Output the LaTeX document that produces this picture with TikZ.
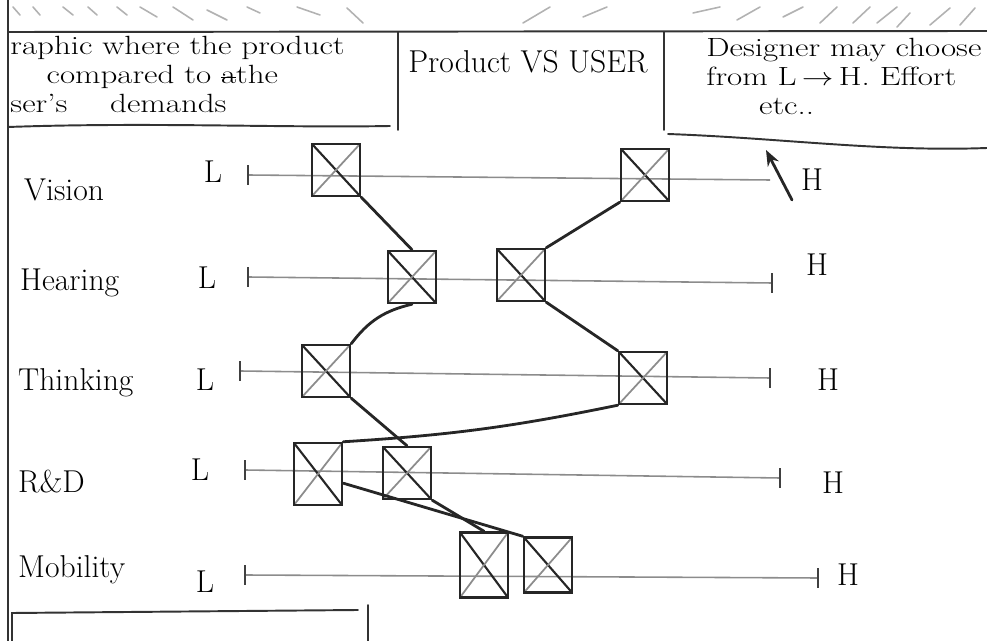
\documentclass[tikz,border=0pt]{standalone}
\usetikzlibrary{arrows.meta}
\newcommand{\struck}[1]{\setbox0\hbox{#1}\rlap{\rule[0.5ex]{\wd0}{0.6pt}}\box0}
\begin{document}
\begin{tikzpicture}[x=0.02cm,y=-0.02cm,
  ink/.style={line width=1.6pt,black!85,line cap=round},
  frame/.style={line width=1.1pt,black!80,line cap=round},
  scale line/.style={line width=0.9pt,black!45},
  tick/.style={line width=1pt,black!75},
  hatch/.style={line width=0.9pt,black!30,line cap=round},
  xbox/.style={draw=black!85,line width=1.4pt,minimum width=0.96cm,minimum height=1.04cm,inner sep=0pt,
    path picture={
      \draw[black!85,line width=1.2pt] (path picture bounding box.north west) -- (path picture bounding box.south east);
      \draw[black!45,line width=1pt] (path picture bounding box.north east) -- (path picture bounding box.south west);}},
  rowlabel/.style={anchor=west,font=\fontsize{18}{20}\selectfont},
  endlabel/.style={font=\fontsize{18}{20}\selectfont},
  note/.style={anchor=north west,align=left,inner sep=0pt,xscale=1.25,transform shape,
    font=\fontsize{15}{16.5}\selectfont}]
\useasboundingbox (0,0) rectangle (987,641);

% hatching above the header strip
\foreach \a/\b/\c/\d in {13/7/20/15,33/7/40/15,63/7/73/15,88/7/97/15,117/7/127/15,140/7/157/17,
  173/7/193/20,207/10/227/20,247/7/260/13,297/7/320/15,347/8/363/23}
  \draw[hatch] (\a,\b) -- (\c,\d);
\foreach \a/\b/\c/\d in {523/23/550/7,583/17/607/7,693/13/720/7,737/20/760/7,783/17/803/7,
  820/23/837/7,853/23/870/7,877/23/897/7,897/27/910/13,930/25/950/8,960/25/975/8}
  \draw[hatch] (\a,\b) -- (\c,\d);

% page frame and header boxes
\draw[frame,line width=1.6pt] (8,0) -- (8,641);
\draw[frame] (8,32) -- (987,31);
\draw[frame] (8,127) .. controls (150,122) and (280,128) .. (390,126);
\draw[frame] (398,32) -- (398,130);
\draw[frame] (664,32) -- (664,130);
\draw[frame] (668,134) .. controls (780,138) and (880,152) .. (987,148);
\draw[frame] (12,641) -- (12,613) -- (358,610);
\draw[frame] (368,605) -- (368,641);

% header texts
\node[note] (intro) at (10,36) {raphic where the product\\
  \hspace*{1.1em}compared to \struck{a}the\\
  ser's \hspace{1em}demands};
\node[note,xscale=0.8,font=\fontsize{18}{20}\selectfont] (title) at (408,50) {Product VS USER};
\node[note] (hint) at (706,38) {Designer may choose\\
  from L$\,\rightarrow\,$H. Effort\\
  \hspace*{1.6em}etc..};

% row names
\node[rowlabel] (rv) at (18,190) {Vision};
\node[rowlabel] (rh) at (14,283) {Hearing};
\node[rowlabel] (rt) at (12,383) {Thinking};
\node[rowlabel] (rr) at (12,482) {R\&D};
\node[rowlabel] (rm) at (12,570) {Mobility};

% low and high ends
\node[endlabel] (lv) at (213,172) {L};
\node[endlabel] (lh) at (207,278) {L};
\node[endlabel] (lt) at (205,380) {L};
\node[endlabel] (lr) at (200,470) {L};
\node[endlabel] (lm) at (205,582) {L};
\node[endlabel] (hv) at (812,180) {H};
\node[endlabel] (hh) at (817,265) {H};
\node[endlabel] (ht) at (828,380) {H};
\node[endlabel] (hr) at (833,483) {H};
\node[endlabel] (hm) at (848,575) {H};

% scales
\coordinate (v0) at (248,175); \coordinate (v1) at (770,180);
\coordinate (h0) at (248,277); \coordinate (h1) at (772,283);
\coordinate (t0) at (240,371); \coordinate (t1) at (770,378);
\coordinate (d0) at (245,470); \coordinate (d1) at (780,478);
\coordinate (m0) at (245,575); \coordinate (m1) at (818,578);
\foreach \s/\e in {v0/v1,h0/h1,t0/t1,d0/d1,m0/m1}
  \draw[scale line] (\s) -- (\e);
\foreach \p in {v0,h0,t0,d0,m0,h1,t1,d1,m1}
  \draw[tick] ([yshift=-0.2cm]\p) -- ([yshift=0.2cm]\p);

% level markers
\node[xbox] (V1) at (336,170) {};
\node[xbox] (V2) at (645,175) {};
\node[xbox] (H1) at (412,277) {};
\node[xbox] (H2) at (521,275) {};
\node[xbox] (T1) at (326,371) {};
\node[xbox] (T2) at (643,378) {};
\node[xbox,minimum height=1.24cm] (R1) at (318,474) {};
\node[xbox] (R2) at (407,473) {};
\node[xbox,minimum height=1.3cm] (M1) at (484,565) {};
\node[xbox,minimum height=1.1cm] (M2) at (548,565) {};

% first profile
\draw[ink] (V1.south east) -- (H1.north);
\draw[ink] (H1.south) to[bend right=20] (T1.north east);
\draw[ink] (T1.south east) -- (R2.north);
\draw[ink] (R2.south east) -- (M1.north);
% second profile
\draw[ink] (V2.south west) -- (H2.north east);
\draw[ink] (H2.south east) -- (T2.north west);
\draw[ink] (T2.south west) to[bend left=4] (R1.north east);
\draw[ink] (R1.-20) -- (M2.north west);

% pointer to the high end
\coordinate (ptail) at (792,200);
\coordinate (ptip) at (766,150);
\draw[ink,-{Stealth[length=9pt,width=7pt]}] (ptail) -- (ptip);
\end{tikzpicture}
\end{document}
